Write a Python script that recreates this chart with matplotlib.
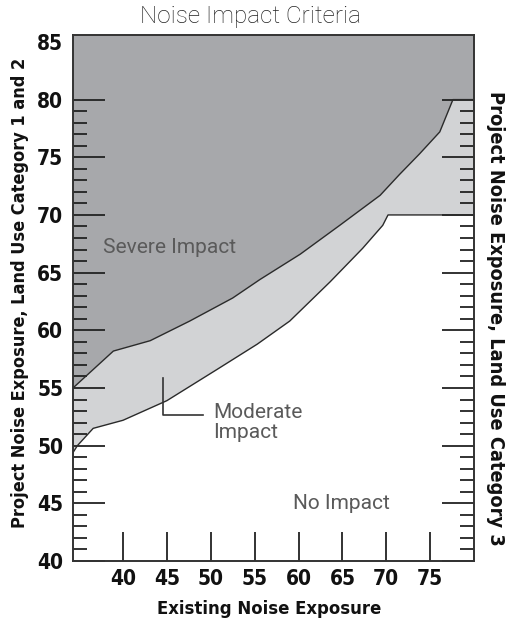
import matplotlib
matplotlib.use("Agg")
import matplotlib.pyplot as plt
from matplotlib import font_manager as fm
import numpy as np

# ---- data ----
title = "Noise Impact Criteria"
x_label = "Existing Noise Exposure"
y_label_left = "Project Noise Exposure, Land Use Category 1 and 2"
y_label_right = "Project Noise Exposure, Land Use Category 3"

x_ticks = [40, 45, 50, 55, 60, 65, 70, 75]
x_tick_labels = ["40", "45", "50", "55", "60", "65", "70", "75"]
y_ticks = [40, 45, 50, 55, 60, 65, 70, 75, 80, 85]
y_tick_labels = ["40", "45", "50", "55", "60", "65", "70", "75", "80", "85"]

# severe-impact threshold (upper boundary)
severe_x = [34.3, 38.9, 43.1, 47.6, 52.5, 55.6, 60.2, 64.7, 69.3, 71.5, 73.8, 76.1, 77.6, 80.0]
severe_y = [55.0, 58.2, 59.1, 60.8, 62.8, 64.4, 66.6, 69.1, 71.7, 73.5, 75.3, 77.2, 80.0, 80.0]
# moderate-impact threshold (lower boundary)
moderate_x = [34.3, 34.8, 36.6, 40.0, 45.0, 50.7, 55.3, 59.0, 63.6, 67.3, 69.6, 70.2, 80.0]
moderate_y = [49.4, 50.0, 51.5, 52.2, 53.9, 56.6, 58.8, 60.8, 64.2, 67.1, 69.1, 70.0, 70.0]

region_labels = ["Severe Impact", "Moderate\nImpact", "No Impact"]

# ---- styling ----
DARK = "#a7a8ab"
LIGHT = "#d2d3d5"
TEXT_GRAY = "#5a5a5a"


def condensed_bold(size):
    paths = [f.fname for f in fm.fontManager.ttflist]
    prefs = ["LiberationSansNarrow-Bold", "DejaVuSansCondensed-Bold"]
    for p in prefs:
        for fp in paths:
            if p in fp:
                return fm.FontProperties(fname=fp, size=size)
    for fp in paths:
        if ("Condensed" in fp or "Narrow" in fp) and "Bold" in fp and "Oblique" not in fp and "Italic" not in fp:
            return fm.FontProperties(fname=fp, size=size)
    return fm.FontProperties(family="DejaVu Sans", weight="bold", stretch="condensed", size=size)


x_min, x_max = 34.3, 80.0
y_min, y_max = 40.0, 85.6

fig = plt.figure(figsize=(5.07, 6.29), dpi=100)
W, H = 507, 629
ax = fig.add_axes([73 / W, 1 - 561 / H, (474 - 73) / W, (561 - 35) / H])
ax.set_xlim(x_min, x_max)
ax.set_ylim(y_min, y_max)

sx = np.array(severe_x)
sy = np.array(severe_y)
mx = np.array(moderate_x)
my = np.array(moderate_y)

# severe region
ax.fill(np.concatenate([sx, [x_max, x_min]]),
        np.concatenate([sy, [y_max, y_max]]),
        color=DARK, lw=0, zorder=1)
# moderate region
ax.fill(np.concatenate([sx, mx[::-1]]),
        np.concatenate([sy, my[::-1]]),
        color=LIGHT, lw=0, zorder=1)

ax.plot(sx, sy, color="#2a2a2a", lw=1.0, zorder=2)
ax.plot(mx, my, color="#2a2a2a", lw=1.0, zorder=2)

# ticks
ax.set_xticks(x_ticks)
ax.set_xticklabels(x_tick_labels)
ax.set_yticks(y_ticks)
ax.set_yticklabels(y_tick_labels)
ax.set_yticks([v for v in range(41, 80) if v % 5 != 0], minor=True)

ax.tick_params(axis="x", which="major", direction="in", length=21, width=1.3,
               pad=6, top=False, colors="#222222")
ax.tick_params(axis="y", which="major", direction="in", length=23, width=1.3,
               pad=7, left=True, right=True, colors="#222222")
ax.tick_params(axis="y", which="minor", direction="in", length=10, width=1.3,
               left=True, right=True, colors="#222222")
t85 = ax.yaxis.get_major_ticks()[-1]
t85.tick1line.set_visible(False)
t85.tick2line.set_visible(False)

tick_fp = condensed_bold(15)
for lab in ax.get_xticklabels() + ax.get_yticklabels():
    lab.set_fontproperties(tick_fp)
    lab.set_color("#111111")

for s in ax.spines.values():
    s.set_linewidth(1.4)
    s.set_color("#333333")
    s.set_zorder(3)

ax.set_xlabel(x_label, fontproperties=condensed_bold(13.2), color="#111111")
ax.xaxis.set_label_coords((269 - 73) / 401, -(600 - 561) / 526)
ax.set_ylabel(y_label_left, fontproperties=condensed_bold(13), color="#111111")
ax.yaxis.set_label_coords(-(73 - 29) / 401, (561 - 293) / 526)
ax.text((495 - 73) / 401, (561 - 318) / 526, y_label_right,
        transform=ax.transAxes, rotation=-90, ha="center", va="center",
        fontproperties=condensed_bold(14.3), color="#111111")

fig.text(250 / W, 1 - 16 / H, title, ha="center", va="center",
         family="Roboto", fontweight="light", fontsize=17.5, color="#222222")

# region labels
ax.text(37.7, 67.2, region_labels[0], ha="left", va="center",
        family="Roboto", fontsize=15, color=TEXT_GRAY, zorder=4)
ax.text(50.3, 53.7, region_labels[1], ha="left", va="top", linespacing=1.1,
        family="Roboto", fontsize=15, color=TEXT_GRAY, zorder=4)
ax.text(59.4, 45.0, region_labels[2], ha="left", va="center",
        family="Roboto", fontsize=15, color=TEXT_GRAY, zorder=4)

# leader line for "Moderate Impact"
ax.plot([44.55, 44.55, 49.1], [55.9, 52.7, 52.7], color="#333333", lw=1.2, zorder=4)

fig.savefig("out.png", dpi=100)
